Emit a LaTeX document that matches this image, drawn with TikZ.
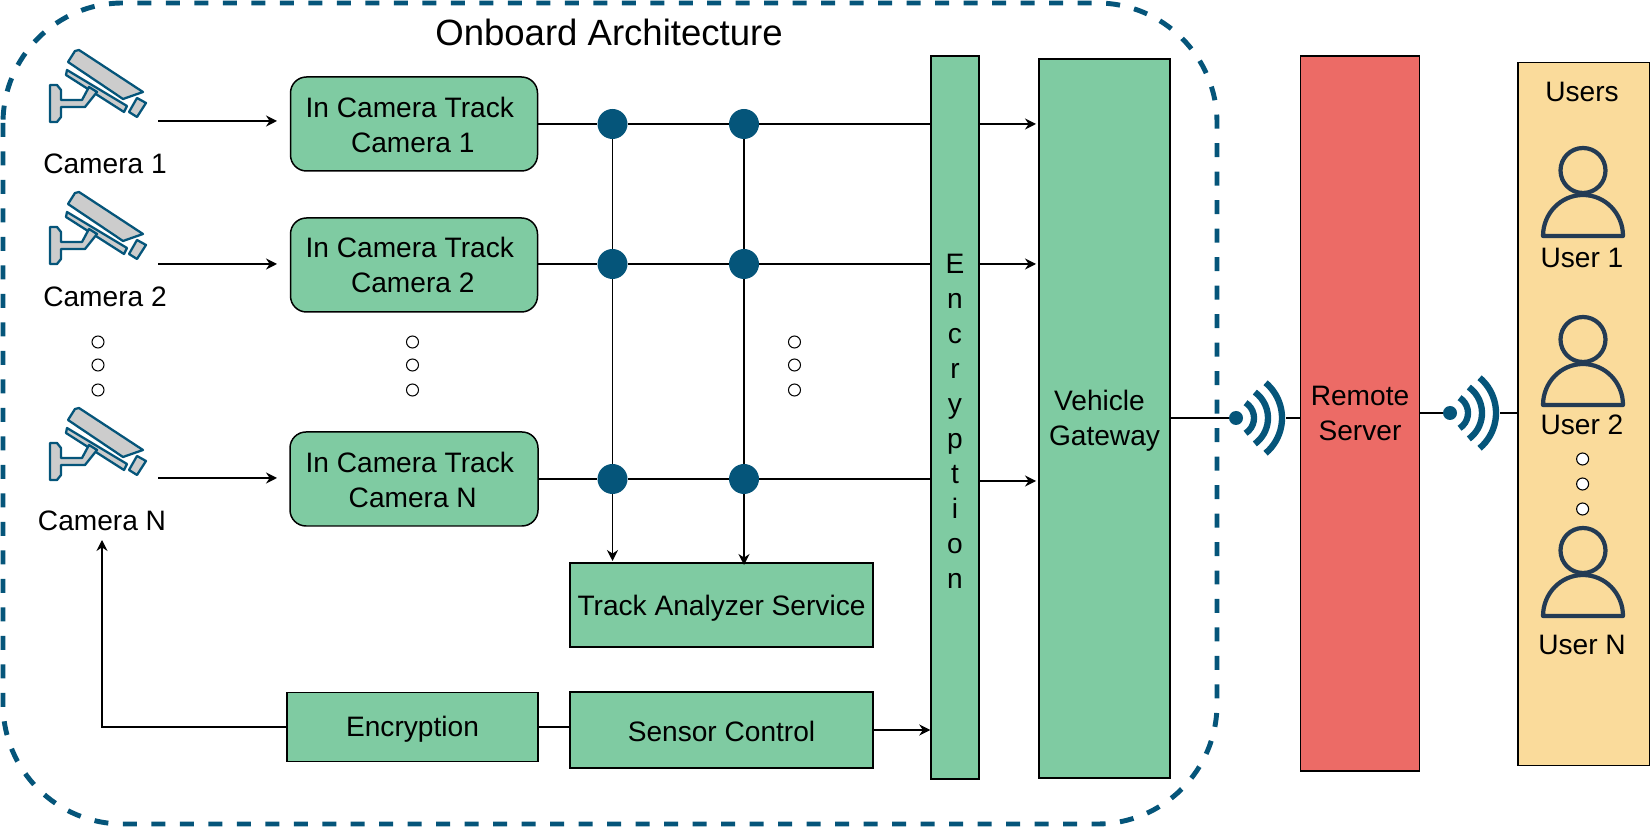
\documentclass[tikz,border=0pt]{standalone}
\usepackage{fontspec}
\setmainfont{Liberation Sans}
\usetikzlibrary{arrows,arrows.meta}

\definecolor{boxgreen}{HTML}{7FCBA2}
\definecolor{boxred}{HTML}{EC6B66}
\definecolor{boxyellow}{HTML}{FADB9B}
\definecolor{navy}{HTML}{05557A}
\definecolor{usernavy}{HTML}{233B54}

\def\u{0.02cm} %one pixel of the reference
\def\dn{\rule{0pt}{14.5pt}} %pushes a block text a little down
\def\dnsmall{\rule{0pt}{13pt}}

\tikzset{
	label/.style={font=\fontsize{16}{19.9}\selectfont,align=center,inner sep=0},
	block/.style={label,draw=black,line width=0.85pt,fill=boxgreen},
	junction/.style={circle,fill=navy,inner sep=0,minimum size=30*\u},
	smalldot/.style={circle,draw=black,fill=white,line width=0.6pt,inner sep=0,minimum size=12*\u},
	wifidot/.style={circle,fill=navy,inner sep=0,minimum size=14*\u},
	link/.style={line width=0.85pt},
	arrow/.style={link,-{Stealth[length=2.2mm,width=2.2mm]}},
	wave/.style={navy,line width=3.6pt},
	camline/.style={draw=navy,fill=black!20,line width=1.3pt,line join=round},
	userline/.style={draw=usernavy,line width=2.4pt,line join=round}
}

%camera icon, #1 = top of the icon
\def\camera#1{
	\begin{scope}[shift={(50,#1)}]
		\draw[camline] (18,12)--(25,1)--(29,0)--(93,42)--(73,49)--cycle;
		\draw[camline] (17,20)--(77,56)--(74,62)--(16,25)--cycle;
		\draw[camline] (87,48)--(96,53)--(87,67)--(79,62)--cycle;
		\draw[camline] (0,35)--(7,35)--(11,40)--(11,50)--(32,50)--(39,37)--(47,42)--(35,57)--(11,57)--(11,67)--(7,72)--(0,72)--cycle;
	\end{scope}
}
%user icon, #1 = base of the shoulders
\def\person#1{
	\draw[userline] (1583,#1-65.5) circle (22.5);
	\draw[userline] (1543,#1) arc (180:360:40 and 41)--cycle;
}
%wifi arcs round a named dot
\def\waves#1{
	\draw[wave] (#1) ++(-58:18) arc (-58:58:18);
	\draw[wave] (#1) ++(-54:32) arc (-54:54:32);
	\draw[wave] (#1) ++(-50:46) arc (-50:50:46);
}

\begin{document}
\begin{tikzpicture}[x=\u,y=-\u]
	\useasboundingbox (0,0) rectangle (1650,830);

	%ONBOARD FRAME
	\draw[navy,line width=2.8pt,dash pattern=on 0.28cm off 0.29cm,rounded corners=2.4cm] (3,3) rectangle (1217,824);
	\node[label,font=\fontsize{20.8}{25}\selectfont] (onboard) at (609,32) {Onboard Architecture};

	%CAMERAS
	\camera{50}
	\camera{192}
	\camera{408}
	\node[label] (camA) at (105,164) {Camera 1};
	\node[label] (camB) at (105,297) {Camera 2};
	\node[label] (camN) at (102,521) {Camera N};

	%TRACK BOXES
	\node[block,rounded corners=0.32cm,minimum width=247*\u,minimum height=94*\u] (trackA) at (414,124) {\dnsmall In Camera Track\kern0.17cm\\Camera 1\kern0.05cm};
	\node[block,rounded corners=0.32cm,minimum width=247*\u,minimum height=94*\u] (trackB) at (414,265) {In Camera Track\kern0.17cm\\Camera 2\kern0.05cm};
	\node[block,rounded corners=0.32cm,minimum width=248*\u,minimum height=94*\u] (trackN) at (414,479) {\dnsmall In Camera Track\kern0.17cm\\Camera N\kern0.05cm};

	%OTHER BLOCKS
	\node[block,minimum width=303*\u,minimum height=84*\u] (analyzer) at (721.5,605) {\rule{0pt}{15.5pt}Track Analyzer Service};
	\node[block,minimum width=251*\u,minimum height=69*\u] (keybox) at (412.5,727) {\dn Encryption};
	\node[block,minimum width=303*\u,minimum height=76*\u] (sensor) at (721.5,730) {\dnsmall Sensor Control};
	\node[block,minimum width=48*\u,minimum height=723*\u] (crypt) at (955,417.5) {\rule{0pt}{15pt}E\\n\\c\\r\\y\\p\\t\\i\\o\\n};
	\node[block,minimum width=131*\u,minimum height=719*\u] (gateway) at (1104.5,418.5) {\dn Vehicle\kern0.2cm\\Gateway};
	\node[block,fill=boxred,minimum width=119*\u,minimum height=715*\u] (remote) at (1360,413.5) {Remote\\Server};
	\node[block,fill=boxyellow,minimum width=132*\u,minimum height=703*\u,anchor=north west] (users) at (1517,62) {};

	%JUNCTIONS
	\node[junction] (jA) at (612.5,124) {};	\node[junction] (kA) at (744,124) {};
	\node[junction] (jB) at (612.5,264) {};	\node[junction] (kB) at (744,264) {};
	\node[junction] (jN) at (612.5,479) {};	\node[junction] (kN) at (744,479) {};

	%CAMERA ARROWS
	\coordinate (outA) at (158,121);	\coordinate (inA) at (277,121);
	\coordinate (outB) at (158,264);	\coordinate (inB) at (277,264);
	\coordinate (outN) at (158,478);	\coordinate (inN) at (277,478);
	\draw[arrow] (outA)--(inA);
	\draw[arrow] (outB)--(inB);
	\draw[arrow] (outN)--(inN);

	%BUS LINES
	\draw[link] (trackA.east)--(jA);	\draw[link] (jA)--(kA);	\draw[link] (kA)--(kA -| crypt.west);
	\draw[link] (trackB.east |- jB)--(jB);	\draw[link] (jB)--(kB);	\draw[link] (kB)--(kB -| crypt.west);
	\draw[link] (trackN.east |- jN)--(jN);	\draw[link] (jN)--(kN);	\draw[link] (kN)--(kN -| crypt.west);
	\draw[link] (jA)--(jB);	\draw[link] (jB)--(jN);
	\draw[link] (kA)--(kB);	\draw[link] (kB)--(kN);
	%
	\coordinate (gateA) at (1036,124);
	\coordinate (gateB) at (1036,264);
	\coordinate (gateN) at (1036,481);
	\draw[arrow] (crypt.east |- gateA)--(gateA);
	\draw[arrow] (crypt.east |- gateB)--(gateB);
	\draw[arrow] (crypt.east |- gateN)--(gateN);
	%
	\coordinate (downJ) at (612.5,561);
	\coordinate (downK) at (744,565);
	\draw[arrow] (jN)--(downJ);
	\draw[arrow] (kN)--(downK);

	%CONTROL PATH
	\coordinate (camNin) at (102,540);
	\draw[arrow] (keybox.west) -| (camNin);
	\draw[link] (keybox.east)--(keybox.east -| sensor.west);
	\draw[arrow] (sensor.east)--(sensor.east -| crypt.west);

	%WIRELESS LINKS
	\node[wifidot] (wifiA) at (1236,418) {};
	\node[wifidot] (wifiB) at (1450,413) {};
	\waves{wifiA}
	\waves{wifiB}
	\coordinate (endA) at (1286,418);
	\coordinate (endB) at (1500,413);
	\draw[link] (gateway.east |- wifiA)--(wifiA);
	\draw[link] (endA)--(endA -| remote.west);
	\draw[link] (remote.east |- wifiB)--(wifiB);
	\draw[link] (endB)--(endB -| users.west);

	%USERS
	\node[label] (usersTitle) at (1582,91.5) {Users};
	\person{236}
	\person{405}
	\person{616}
	\node[label] (userA) at (1582,258) {User 1};
	\node[label] (userB) at (1582,425) {User 2};
	\node[label] (userN) at (1582,645) {User N};

	%ELLIPSIS DOTS
	\node[smalldot] (leftA) at (98,342) {};		\node[smalldot] (leftB) at (98,365) {};		\node[smalldot] (leftC) at (98,390) {};
	\node[smalldot] (midA) at (412.5,342) {};	\node[smalldot] (midB) at (412.5,365) {};	\node[smalldot] (midC) at (412.5,390) {};
	\node[smalldot] (busA) at (794.5,342) {};	\node[smalldot] (busB) at (794.5,365) {};	\node[smalldot] (busC) at (794.5,390) {};
	\node[smalldot] (userDotA) at (1582.6,459) {};	\node[smalldot] (userDotB) at (1582.6,484) {};	\node[smalldot] (userDotC) at (1582.6,509) {};
\end{tikzpicture}
\end{document}
